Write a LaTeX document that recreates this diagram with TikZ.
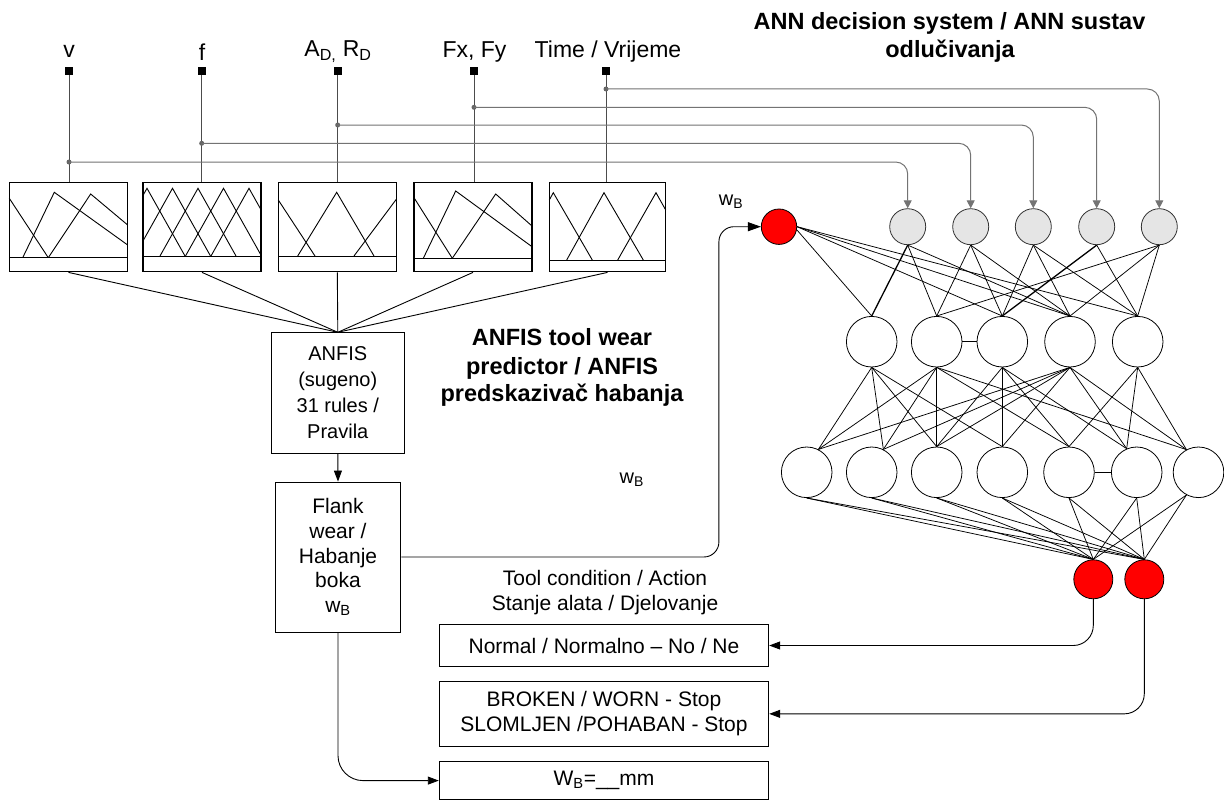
\documentclass[tikz,border=0pt]{standalone}
\usepackage{fontspec}
\setmainfont{Liberation Sans}
\usetikzlibrary{arrows.meta,calc}
\begin{document}
\begin{tikzpicture}[x=1pt,y=-1pt,
  mfbox/.style={draw, line width=1.4pt, minimum width=118pt, minimum height=89.4pt, inner sep=0pt},
  mf/.style={line width=0.9pt},
  sqr/.style={fill=black, minimum size=8pt, inner sep=0pt},
  toplbl/.style={font=\fontsize{23}{27}\selectfont, anchor=base, inner sep=0pt},
  vln/.style={draw=black!70, line width=1pt},
  brl/.style={draw=black!55, line width=1pt, rounded corners=12pt, -{Triangle[length=8pt,width=8pt]}},
  brdot/.style={circle, fill=black!60, minimum size=5pt, inner sep=0pt},
  tbox/.style={draw, line width=0.9pt, align=center, inner sep=0pt, font=\fontsize{20}{26}\selectfont},
  obox/.style={draw, line width=0.9pt, align=center, inner sep=0pt, minimum width=329.5pt, font=\fontsize{21}{25}\selectfont},
  conn/.style={line width=0.9pt},
  arr/.style={conn, -{Triangle[length=11pt,width=8pt]}},
  nrn/.style={circle, draw, line width=0.8pt, fill=white, minimum size=50.6pt, inner sep=0pt},
  inn/.style={circle, draw=black!80, line width=0.8pt, fill=black!10, minimum size=36pt, inner sep=0pt},
  rdn/.style={circle, draw, line width=0.8pt, fill=red, inner sep=0pt},
  ed/.style={line width=0.75pt},
  edt/.style={line width=1.3pt},
  ttl/.style={font=\bfseries\fontsize{23.5}{28}\selectfont, anchor=base, inner sep=0pt},
  lbl/.style={font=\fontsize{20}{24}\selectfont, anchor=base, inner sep=0pt},
]
\fill[white] (0,0) rectangle (1224,800);
\useasboundingbox (0,0) rectangle (1224,800);

% ---------- inputs ----------
\node[sqr] (s1) at (69,71) {};
\node[sqr] (s2) at (201.7,71) {};
\node[sqr] (s3) at (337.7,71) {};
\node[sqr] (s4) at (474,71) {};
\node[sqr] (s5) at (606,71) {};
\node[toplbl] (l1) at (69,58) {v};
\node[toplbl] (l2) at (202,61) {f};
\node[toplbl] (l3) at (338,57) {A\textsubscript{D,} R\textsubscript{D}};
\node[toplbl] (l4) at (474.5,58) {Fx, Fy};
\node[toplbl] (l5) at (608,58) {Time / Vrijeme};

% ---------- membership function boxes ----------
\node[mfbox] (m1) at (68.5,227) {};
\node[mfbox] (m2) at (202,227) {};
\node[mfbox] (m3) at (337.3,227) {};
\node[mfbox] (m4) at (473,227) {};
\node[mfbox, minimum width=116.4pt] (m5) at (607.5,227) {};

% box 1
\draw[mf] (9.3,257.7) -- (127.7,257.7);
\draw[mf] (9.3,198.3) -- (48.3,257.7);
\draw[mf] (22.7,257.7) -- (54.3,192.3) -- (127.7,245);
\draw[mf] (48.3,257.7) -- (90.7,194) -- (127.7,225);
% box 2
\draw[mf] (143,256) -- (261,256);
\draw[mf] (143,195.4) -- (147,188.3) -- (185,256);
\draw[mf] (143,240.9) -- (172.5,188.3) -- (210.5,256);
\draw[mf] (160,256) -- (198,188.3) -- (236,256);
\draw[mf] (185.5,256) -- (223.5,188.3) -- (261,255.1);
\draw[mf] (211,256) -- (249,188.3) -- (261,209.7);
% box 3
\draw[mf] (278.3,256) -- (396.3,256);
\draw[mf] (278.3,200) -- (315,256);
\draw[mf] (297.7,256) -- (336.7,192.3) -- (374,256);
\draw[mf] (354,256) -- (396.3,199.3);
% box 4
\draw[mf] (414,258.3) -- (532,258.3);
\draw[mf] (414,197.7) -- (452.3,258.3);
\draw[mf] (423.3,258.3) -- (455.7,191) -- (532,246.7);
\draw[mf] (452.3,258.3) -- (495.7,194) -- (532,226);
% box 5
\draw[mf] (549.3,260) -- (665.7,260);
\draw[mf] (549.3,200) -- (553.3,192.7) -- (592.3,260);
\draw[mf] (566.7,260) -- (604,192.7) -- (643.3,260);
\draw[mf] (617.7,260) -- (656,192.7) -- (665.7,210);

% vertical input lines
\foreach \i in {1,...,5} {\draw[vln] (s\i.south) -- (s\i.south |- m\i.north);}

% ---------- ANN nodes ----------
\node[rdn, minimum size=35.4pt] (r) at (779,226.7) {};
\node[inn] (g1) at (907.7,226.7) {};
\node[inn] (g2) at (970.7,226.7) {};
\node[inn] (g3) at (1033.3,226.7) {};
\node[inn] (g4) at (1096.7,226.7) {};
\node[inn] (g5) at (1159.3,226.7) {};

\node[nrn] (a1) at (871.7,341.7) {};
\node[nrn] (a2) at (936.7,341.7) {};
\node[nrn] (a3) at (1002.3,341.7) {};
\node[nrn] (a4) at (1070,341.7) {};
\node[nrn] (a5) at (1137.7,341.7) {};

\node[nrn] (b1) at (806.7,472.3) {};
\node[nrn] (b2) at (871.7,472.3) {};
\node[nrn] (b3) at (936.7,472.3) {};
\node[nrn] (b4) at (1002.3,472.3) {};
\node[nrn] (b5) at (1069,472.3) {};
\node[nrn] (b6) at (1136.7,472.3) {};
\node[nrn] (b7) at (1198.5,472.3) {};

\node[rdn, minimum size=39pt] (o1) at (1093.3,579.3) {};
\node[rdn, minimum size=39pt] (o2) at (1144.3,579.3) {};

% branch dots and arrows to ANN inputs
\node[brdot] (d1) at (s1 |- 0,162) {};
\node[brdot] (d2) at (s2 |- 0,143.3) {};
\node[brdot] (d3) at (s3 |- 0,125) {};
\node[brdot] (d4) at (s4 |- 0,107.3) {};
\node[brdot] (d5) at (s5 |- 0,89) {};
\foreach \i in {1,...,5} {\draw[brl] (d\i.center) -| (g\i.north);}

% input -> hidden 1
\draw[ed] (r.-10) -- (a1.north);
\foreach \t in {3,4,5} {\draw[ed] (r.east) -- (a\t.north);}
\draw[edt] (g1.south) -- (a1.north);
\foreach \t in {2,4} {\draw[ed] (g1.south) -- (a\t.north);}
\foreach \t in {2,3,4} {\draw[ed] (g2.south) -- (a\t.north);}
\foreach \t in {3,4,5} {\draw[ed] (g3.south) -- (a\t.north);}
\draw[edt] (g4.south) -- (a3.north);
\draw[ed] (g4.south) -- (a5.north);
\foreach \t in {2,4,5} {\draw[ed] (g5.south) -- (a\t.north);}

% hidden 1 -> hidden 2
\foreach \i/\ang in {1/63,2/63,3/90,4/90,5/90,6/113,7/118} {\coordinate (bt\i) at (b\i.\ang);}
\foreach \i/\ang in {1/-90,2/-90,3/-90,4/-90,5/-90,6/-90,7/-118} {\coordinate (bb\i) at (b\i.\ang);}
\foreach \t in {1,2,3,4} {\draw[ed] (a1.south) -- (bt\t);}
\foreach \t in {1,2,3,5,7} {\draw[ed] (a2.south) -- (bt\t);}
\foreach \t in {3,4,5,6} {\draw[ed] (a3.south) -- (bt\t);}
\foreach \t in {1,2,3,4,6,7} {\draw[ed] (a4.south) -- (bt\t);}
\foreach \t in {5,6,7} {\draw[ed] (a5.south) -- (bt\t);}
\draw[ed] (a2.east) -- (a3.west);
\draw[ed] (b5.east) -- (b6.west);

% hidden 2 -> outputs
\foreach \i in {1,...,7} {\draw[ed] (bb\i) -- (o1.north); \draw[ed] (bb\i) -- (o2.north);}

% ---------- ANFIS side ----------
\foreach \i in {1,...,5} {\draw[conn] (m\i.south) -- (337.8,332.3);}
\node[tbox, minimum width=132.3pt, minimum height=121pt] (an) at (337.8,392.8) {ANFIS\\(sugeno)\\31 rules /\\Pravila};
\node[tbox, font=\fontsize{21}{24.6}\selectfont, minimum width=125.7pt, minimum height=150pt] (fl) at (338,557) {Flank\\wear /\\Habanje\\boka\\w\textsubscript{B}};
\draw[arr] (an.south) -- (fl.north);

\node[obox, minimum height=42.4pt] (nb) at (604,645.5) {Normal / Normalno – No / Ne};
\node[obox, minimum height=65.7pt] (brk) at (604,713.85) {BROKEN / WORN - Stop\\SLOMLJEN /POHABAN - Stop};
\node[obox, minimum height=37.8pt] (wb) at (604,780.6) {W\textsubscript{B}=\_\_mm};

\draw[conn, -{Triangle[length=13pt,width=9pt]}, rounded corners=15pt] (fl.east) -| ($(r.west)+(-42,0)$) -- (r.west);
\draw[arr, rounded corners=25pt] (fl.south) |- (wb.west);
\draw[arr, rounded corners=20pt] (o1.south) |- (nb.east);
\draw[arr, rounded corners=20pt] (o2.south) |- (brk.east);

% ---------- texts ----------
\node[ttl] (t1) at (949.5,30) {ANN decision system / ANN sustav};
\node[ttl] (t2) at (950,57.3) {odlučivanja};
\node[ttl] (t3) at (562,345.7) {ANFIS tool wear};
\node[ttl] (t4) at (562,374) {predictor / ANFIS};
\node[ttl] (t5) at (562,401.7) {predskazivač habanja};
\node[lbl] (w1) at (731,205) {w\textsubscript{B}};
\node[lbl] (w2) at (631.7,483) {w\textsubscript{B}};
\node[lbl, font=\fontsize{21}{25}\selectfont] (tc1) at (605,585) {Tool condition / Action};
\node[lbl, font=\fontsize{21}{25}\selectfont] (tc2) at (605,610) {Stanje alata / Djelovanje};
\end{tikzpicture}
\end{document}
